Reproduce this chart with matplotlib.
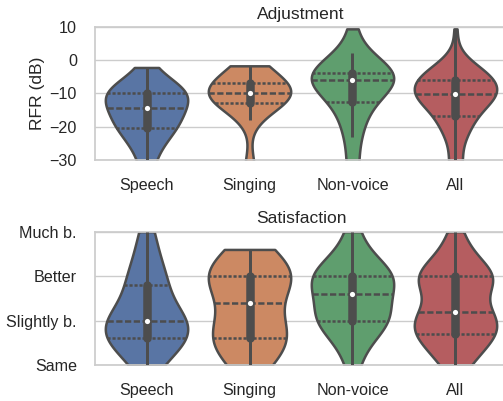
import matplotlib
matplotlib.use("Agg")
import matplotlib.pyplot as plt
import numpy as np
import pandas as pd
import seaborn as sns

groups = ["Speech", "Singing", "Non-voice", "All"]

# Adjustment, RFR in dB
adj_speech = [-34, -29, -26, -24, -22, -21, -20, -19, -18, -17, -16, -15,
              -14, -13, -12, -11, -10.5, -10, -9.5, -9, -8, -7.5, -6, -2.2]
adj_singing = [-36, -31, -18, -15, -13.5, -13, -12.5, -11.5, -11, -10.5, -10,
               -9.8, -9.5, -9, -8.5, -7.5, -6.5, -6, -5, -3.5, -2.5, -1.7]
adj_nonvoice = [-35, -30, -23, -20, -17, -14, -12.2, -11, -9, -8, -7, -6.3,
                -5.5, -5, -4.8, -4.5, -4.2, -4, -3.8, -3, -2, 0, 2.2, 9.4]

# Satisfaction, 0 = Same ... 3 = Much better
sat_speech = [0, 0.2, 0.4, 0.5, 0.6, 0.6, 0.7, 0.8, 0.9, 1.0, 1.0, 1.1,
              1.2, 1.4, 1.8, 1.8, 2.0, 2.2, 2.6, 3.0]
sat_singing = [0, 0.2, 0.4, 0.6, 0.6, 0.8, 1.0, 1.2, 1.6, 1.8, 2.0, 2.0,
               2.0, 2.2, 2.4, 2.6]
sat_nonvoice = [0, 0.5, 0.7, 0.9, 1.0, 1.0, 1.1, 1.2, 1.3, 1.5, 1.7, 1.8,
                1.9, 2.0, 2.0, 2.0, 2.1, 2.3, 2.5, 3.0]
sat_labels = ["Same", "Slightly b.", "Better", "Much b."]

sns.set_theme(style="whitegrid")
plt.rcParams["font.family"] = ["Liberation Sans", "DejaVu Sans"]
plt.rcParams["axes.edgecolor"] = ".8"
plt.rcParams["grid.color"] = ".8"

pal = sns.color_palette("deep")[:4]
dark = (0.3, 0.3, 0.3)
lw = 1.8


def long_form(parts):
    rows = []
    for name, vals in zip(groups[:3], parts):
        for v in vals:
            rows.append((name, v))
    for vals in parts:
        for v in vals:
            rows.append(("All", v))
    return pd.DataFrame(rows, columns=["group", "value"])


def draw(ax, parts):
    df = long_form(parts)
    sns.violinplot(data=df, x="group", y="value", hue="group", order=groups,
                   hue_order=groups, palette=pal, inner="quart", cut=0,
                   linewidth=lw, linecolor=dark, saturation=0.75,
                   legend=False, ax=ax)
    for i, g in enumerate(groups):
        v = df.loc[df.group == g, "value"].to_numpy()
        q1, med, q3 = np.percentile(v, [25, 50, 75])
        iqr = q3 - q1
        lo = v[v >= q1 - 1.5 * iqr].min()
        hi = v[v <= q3 + 1.5 * iqr].max()
        ax.plot([i, i], [lo, hi], color=dark, lw=lw * 1.2,
                solid_capstyle="butt", zorder=3)
        ax.plot([i, i], [q1, q3], color=dark, lw=lw * 3.4,
                solid_capstyle="round", zorder=3)
        ax.scatter([i], [med], s=14, color="white", zorder=4,
                   linewidth=0)
    ax.set_xlabel("")
    ax.set_xlim(-0.5, 3.5)


fig = plt.figure(figsize=(5.03, 4.01), dpi=100)
ax1 = fig.add_axes([0.1889, 0.601, 0.819, 0.332])
ax2 = fig.add_axes([0.1889, 0.0898, 0.819, 0.3325])

draw(ax1, [adj_speech, adj_singing, adj_nonvoice])
ax1.set_ylim(-30, 10)
ax1.set_yticks([-30, -20, -10, 0, 10])
ax1.set_ylabel("RFR (dB)", fontsize=12.6, labelpad=3)
ax1.set_title("Adjustment", fontsize=12.6, pad=6)

draw(ax2, [sat_speech, sat_singing, sat_nonvoice])
ax2.set_ylim(0, 3)
ax2.set_yticks([0, 1, 2, 3])
ax2.set_yticklabels(sat_labels)
ax2.set_ylabel("")
ax2.set_title("Satisfaction", fontsize=12.6, pad=6)

for ax in (ax1, ax2):
    ax.tick_params(labelsize=11.6, colors="0.15", pad=7)

fig.savefig("out.png", dpi=100)
